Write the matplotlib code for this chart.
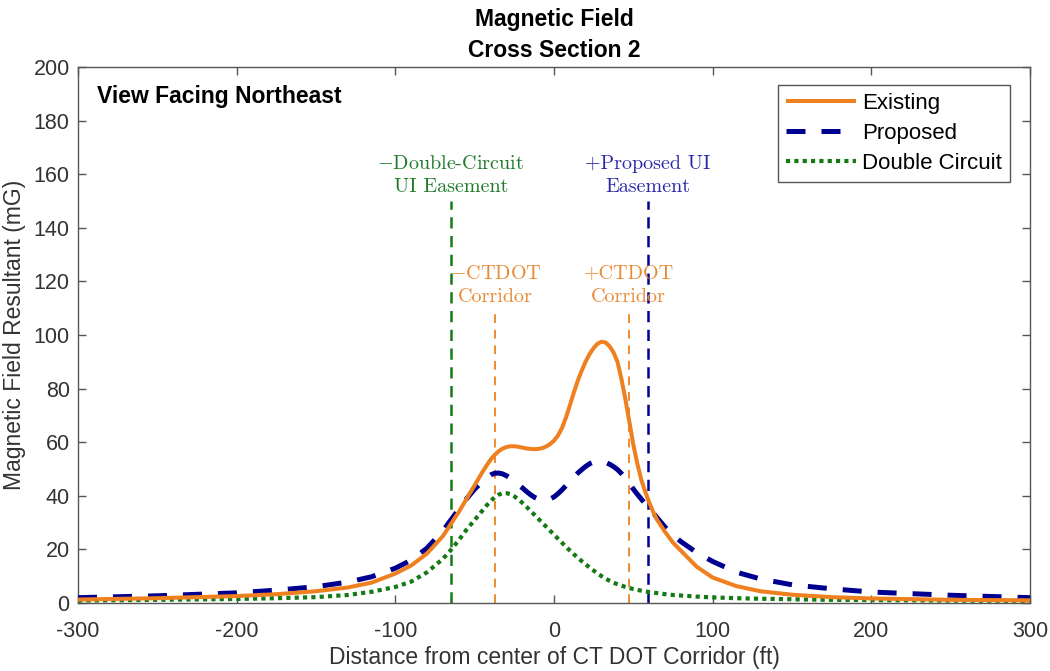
import matplotlib
matplotlib.use("Agg")
import matplotlib.pyplot as plt

# ---------------- data ----------------
x_ft = ([-300, -250, -200, -175, -150, -130, -115, -100, -90, -80, -70, -65, -60, -55]
        + [-50, -47.5, -45, -42.5, -40, -37.5, -35, -32.5, -30, -27.5, -25, -22.5, -20,
           -17.5, -15, -12.5, -10, -7.5, -5, -2.5, 0, 2.5, 5, 7.5, 10, 12.5, 15, 17.5,
           20, 22.5, 25, 27.5, 30, 32.5, 35, 37.5, 40, 42.5, 45, 47.5, 50, 52.5, 55,
           57.5, 60]
        + [62.5, 65, 70, 75, 80, 90, 100, 115, 130, 150, 175, 200, 250, 300])

existing = ([1.3, 1.8, 2.6, 3.3, 4.4, 5.8, 7.6, 11.0, 14.0, 18.5, 25.0, 29.5, 34.0, 39.0]
            + [44.0, 46.5, 49.0, 51.3, 53.5, 55.2, 56.6, 57.6, 58.2, 58.5, 58.5, 58.3,
               58.0, 57.7, 57.5, 57.4, 57.5, 57.8, 58.4, 59.3, 60.6, 62.5, 65.3, 69.2,
               73.8, 78.6, 83.0, 86.8, 90.2, 93.0, 95.2, 96.8, 97.5, 97.2, 95.8, 93.5,
               90.0, 83.5, 76.0, 67.5, 59.0, 52.0, 46.0, 41.5, 37.5]
            + [34.0, 31.0, 26.5, 22.5, 19.5, 13.5, 9.5, 6.3, 4.4, 3.1, 2.2, 1.7, 1.2, 1.0])

proposed = ([2.0, 2.7, 3.8, 4.8, 6.1, 7.8, 9.8, 13.0, 16.0, 20.5, 27.0, 31.0, 35.0, 39.0]
            + [42.5, 44.0, 45.5, 46.8, 47.8, 48.4, 48.5, 48.2, 47.5, 46.6, 45.5, 44.2,
               43.0, 41.7, 40.5, 39.5, 38.8, 38.4, 38.4, 38.8, 39.6, 40.8, 42.2, 43.8,
               45.4, 47.0, 48.5, 49.8, 51.0, 52.0, 52.6, 52.9, 52.9, 52.5, 51.8, 50.9,
               49.8, 48.3, 46.6, 44.6, 42.5, 40.6, 38.8, 37.0, 35.4]
            + [33.6, 31.8, 28.3, 25.4, 22.9, 18.8, 15.5, 11.5, 9.0, 6.8, 5.3, 4.1, 2.9, 2.0])

double_circuit = ([0.9, 1.2, 1.5, 1.8, 2.2, 3.0, 4.2, 6.0, 8.0, 11.5, 16.5, 19.8, 23.5, 27.5]
                  + [31.0, 32.8, 34.6, 36.4, 38.0, 39.4, 40.4, 41.0, 41.0, 40.6, 39.8,
                     38.7, 37.4, 36.0, 34.5, 33.0, 31.5, 30.0, 28.5, 27.0, 25.5, 24.0,
                     22.5, 21.0, 19.6, 18.2, 16.9, 15.6, 14.4, 13.2, 12.1, 11.0, 10.0,
                     9.1, 8.3, 7.6, 7.0, 6.5, 6.0, 5.6, 5.2, 4.9, 4.6, 4.3, 4.1]
                  + [3.9, 3.7, 3.3, 3.0, 2.8, 2.4, 2.1, 1.8, 1.6, 1.4, 1.2, 1.1, 0.9, 0.8])

series_labels = ["Existing", "Proposed", "Double Circuit"]

# boundary markers
dc_easement_x, dc_easement_top = -65, 150
prop_easement_x, prop_easement_top = 59, 150
ctdot_left_x, ctdot_right_x, ctdot_top = -37, 47, 109

x_ticks = [-300, -200, -100, 0, 100, 200, 300]
y_ticks = [0, 20, 40, 60, 80, 100, 120, 140, 160, 180, 200]

# ---------------- style ----------------
plt.rcParams['font.family'] = ['Liberation Sans', 'DejaVu Sans']
plt.rcParams['mathtext.fontset'] = 'cm'
plt.rcParams['axes.unicode_minus'] = False

c_orange = '#EE8020'
c_blue = '#000090'
c_green = '#157A15'
c_orange_v = '#EE8A30'
c_text_green = '#1F7A2A'
c_text_blue = '#2A2AA8'
c_text_orange = '#E88A35'
c_axis = '#555555'
c_label = '#333333'

fig = plt.figure(figsize=(10.5, 6.71), dpi=100)
ax = fig.add_axes([0.0743, 0.1013, 0.9067, 0.7988])

ax.plot(x_ft, existing, color=c_orange, lw=2.9, solid_capstyle='butt',
        label=series_labels[0], zorder=4)
ax.plot(x_ft, proposed, color=c_blue, lw=3.6, dashes=(3.8, 3.2),
        label=series_labels[1], zorder=3)
ax.plot(x_ft, double_circuit, color=c_green, lw=3.0, dashes=(1, 1),
        label=series_labels[2], zorder=3)

ax.plot([dc_easement_x, dc_easement_x], [0, dc_easement_top], color=c_green,
        lw=1.8, dashes=(4.5, 3.0), zorder=2)
ax.plot([prop_easement_x, prop_easement_x], [0, prop_easement_top], color=c_blue,
        lw=1.8, dashes=(4.5, 3.0), zorder=2)
ax.plot([ctdot_left_x, ctdot_left_x], [0, ctdot_top], color=c_orange_v,
        lw=1.4, dashes=(4.5, 3.5), zorder=2)
ax.plot([ctdot_right_x, ctdot_right_x], [0, ctdot_top], color=c_orange_v,
        lw=1.4, dashes=(4.5, 3.5), zorder=2)

tkw = dict(ha='center', va='bottom', fontsize=14.5, family='cmr10', linespacing=1.35)
ax.text(dc_easement_x, dc_easement_top + 2, "$-$Double-Circuit\nUI Easement",
        color=c_text_green, **tkw)
ax.text(prop_easement_x, prop_easement_top + 2, "+Proposed UI\nEasement",
        color=c_text_blue, **tkw)
ax.text(ctdot_left_x, ctdot_top + 2, "$-$CTDOT\nCorridor", color=c_text_orange, **tkw)
ax.text(ctdot_right_x, ctdot_top + 2, "+CTDOT\nCorridor", color=c_text_orange, **tkw)

ax.text(0.02, 0.967, "View Facing Northeast", transform=ax.transAxes,
        fontsize=16.5, fontweight='bold', ha='left', va='top', color='black')

ax.set_xlim(-300, 300)
ax.set_ylim(0, 200)
ax.set_xticks(x_ticks)
ax.set_yticks(y_ticks)
ax.tick_params(direction='in', top=True, right=True, length=6, width=1,
               color=c_axis, labelcolor=c_label, labelsize=15.5)
ax.tick_params(axis='x', pad=13)
ax.tick_params(axis='y', pad=6)
for s in ax.spines.values():
    s.set_color(c_axis)
    s.set_linewidth(1)

ax.set_xlabel("Distance from center of CT DOT Corridor (ft)", fontsize=16.5,
              color=c_label, labelpad=3)
ax.set_ylabel("Magnetic Field Resultant (mG)", fontsize=16.5, color=c_label,
              labelpad=5)
ax.set_title("Magnetic Field\nCross Section 2", fontsize=16.5, fontweight='bold',
             linespacing=1.45, pad=7)

leg = ax.legend(loc='upper right', bbox_to_anchor=(0.979, 0.966), fontsize=16,
                handlelength=3.15, handletextpad=0.3, borderpad=0.35,
                labelspacing=0.4, fancybox=False, framealpha=1,
                edgecolor=c_axis, borderaxespad=0)
leg.get_frame().set_linewidth(1)

fig.savefig("out.png", dpi=100)
